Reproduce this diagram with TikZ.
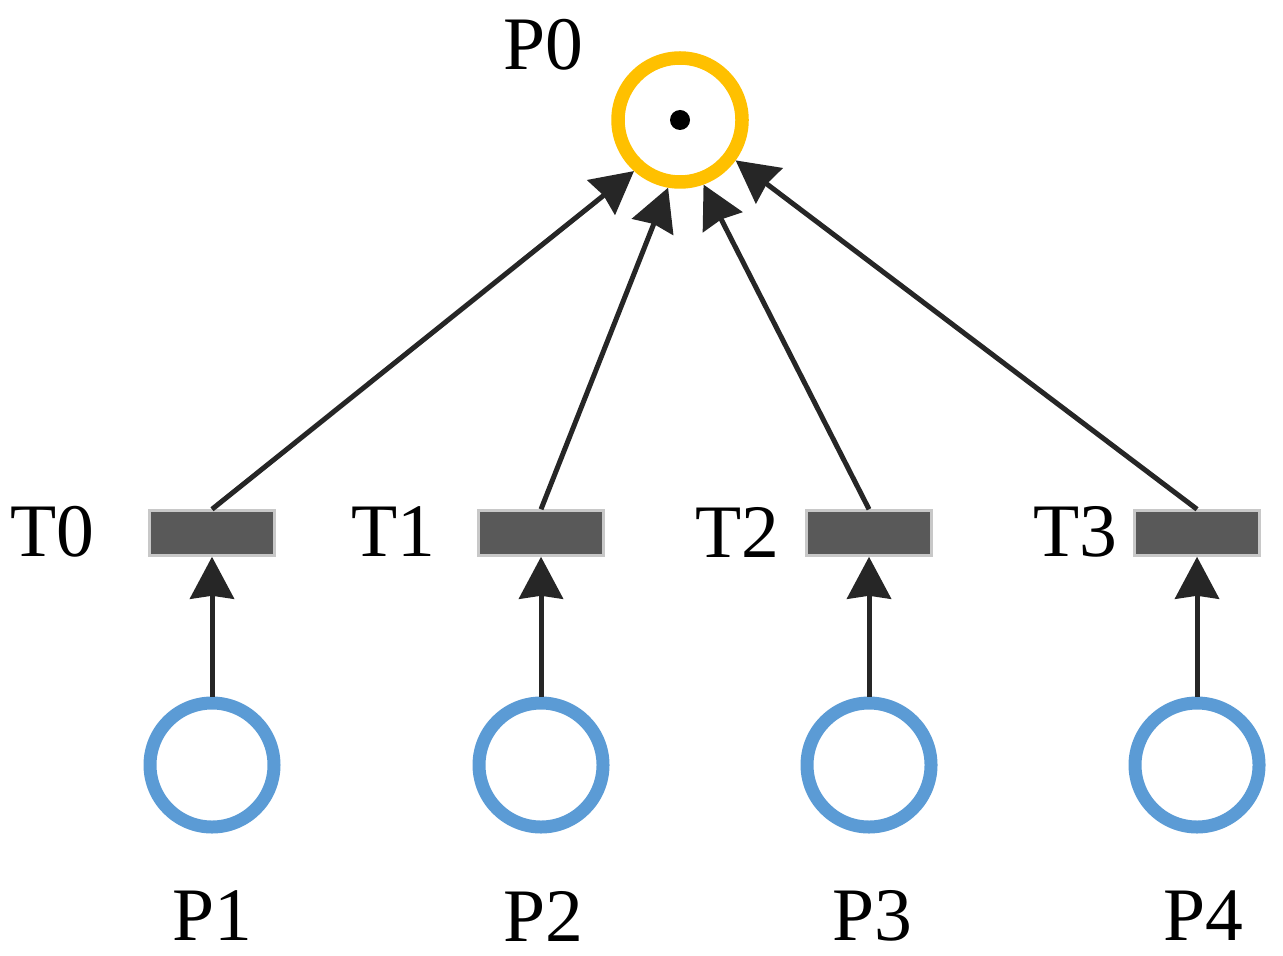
\documentclass[tikz,border=0pt]{standalone}
\usepackage{fontspec}
\setmainfont{Liberation Serif}
\usetikzlibrary{arrows.meta,positioning}

\definecolor{placeOrange}{HTML}{FFC000}
\definecolor{placeBlue}{HTML}{5B9BD5}
\definecolor{transFill}{HTML}{595959}
\definecolor{transEdge}{HTML}{C8C8C8}
\definecolor{arcColor}{HTML}{262626}

\tikzset{
    place/.style={circle, draw=placeBlue, line width=0.13cm, minimum size=1.24cm, inner sep=0pt},
    trans/.style={rectangle, fill=transFill, draw=transEdge, line width=0.03cm, minimum width=1.25cm, minimum height=0.445cm, inner sep=0pt},
    lbl/.style={inner sep=0pt, font=\fontsize{21.5}{26}\selectfont},
    arc/.style={draw=arcColor, line width=0.05cm, -{Stealth[length=0.42cm, width=0.44cm, inset=0.03cm]}}
}

\begin{document}
\begin{tikzpicture}[node distance = 0.15cm]
    \useasboundingbox (0,0) rectangle (12.83,9.55);

    % output place
    \node (P0) [place, draw=placeOrange, line width=0.135cm] at (6.80,8.35) {};
    \fill (P0.center) circle (0.1);
    \node (P0lbl) [lbl] at (5.43,9.10) {P0};

    % transitions
    \node (T0) [trans] at (2.12,4.22) {};
    \node (T1) [trans] at (5.41,4.22) {};
    \node (T2) [trans] at (8.69,4.22) {};
    \node (T3) [trans] at (11.97,4.22) {};
    \node (T0lbl) [lbl] at (0.525,4.23) {T0};
    \node (T1lbl) [lbl] at (3.93,4.23) {T1};
    \node (T2lbl) [lbl] at (7.37,4.23) {T2};
    \node (T3lbl) [lbl] at (10.75,4.23) {T3};

    % input places
    \node (P1) [place] at (2.12,1.90) {};
    \node (P2) [place] at (5.41,1.90) {};
    \node (P3) [place] at (8.69,1.90) {};
    \node (P4) [place] at (11.97,1.90) {};
    \node (P1lbl) [lbl] at (2.12,0.39) {P1};
    \node (P2lbl) [lbl] at (5.43,0.39) {P2};
    \node (P3lbl) [lbl] at (8.72,0.39) {P3};
    \node (P4lbl) [lbl] at (12.03,0.39) {P4};

    % arcs
    \draw[arc] (P1) -- (T0);
    \draw[arc] (P2) -- (T1);
    \draw[arc] (P3) -- (T2);
    \draw[arc] (P4) -- (T3);
    \draw[arc] (T0.north) -- (P0.228);
    \draw[arc] (T1.north) -- (P0.260);
    \draw[arc] (T2.north) -- (P0.290);
    \draw[arc] (T3.north) -- (P0.324);
\end{tikzpicture}
\end{document}
